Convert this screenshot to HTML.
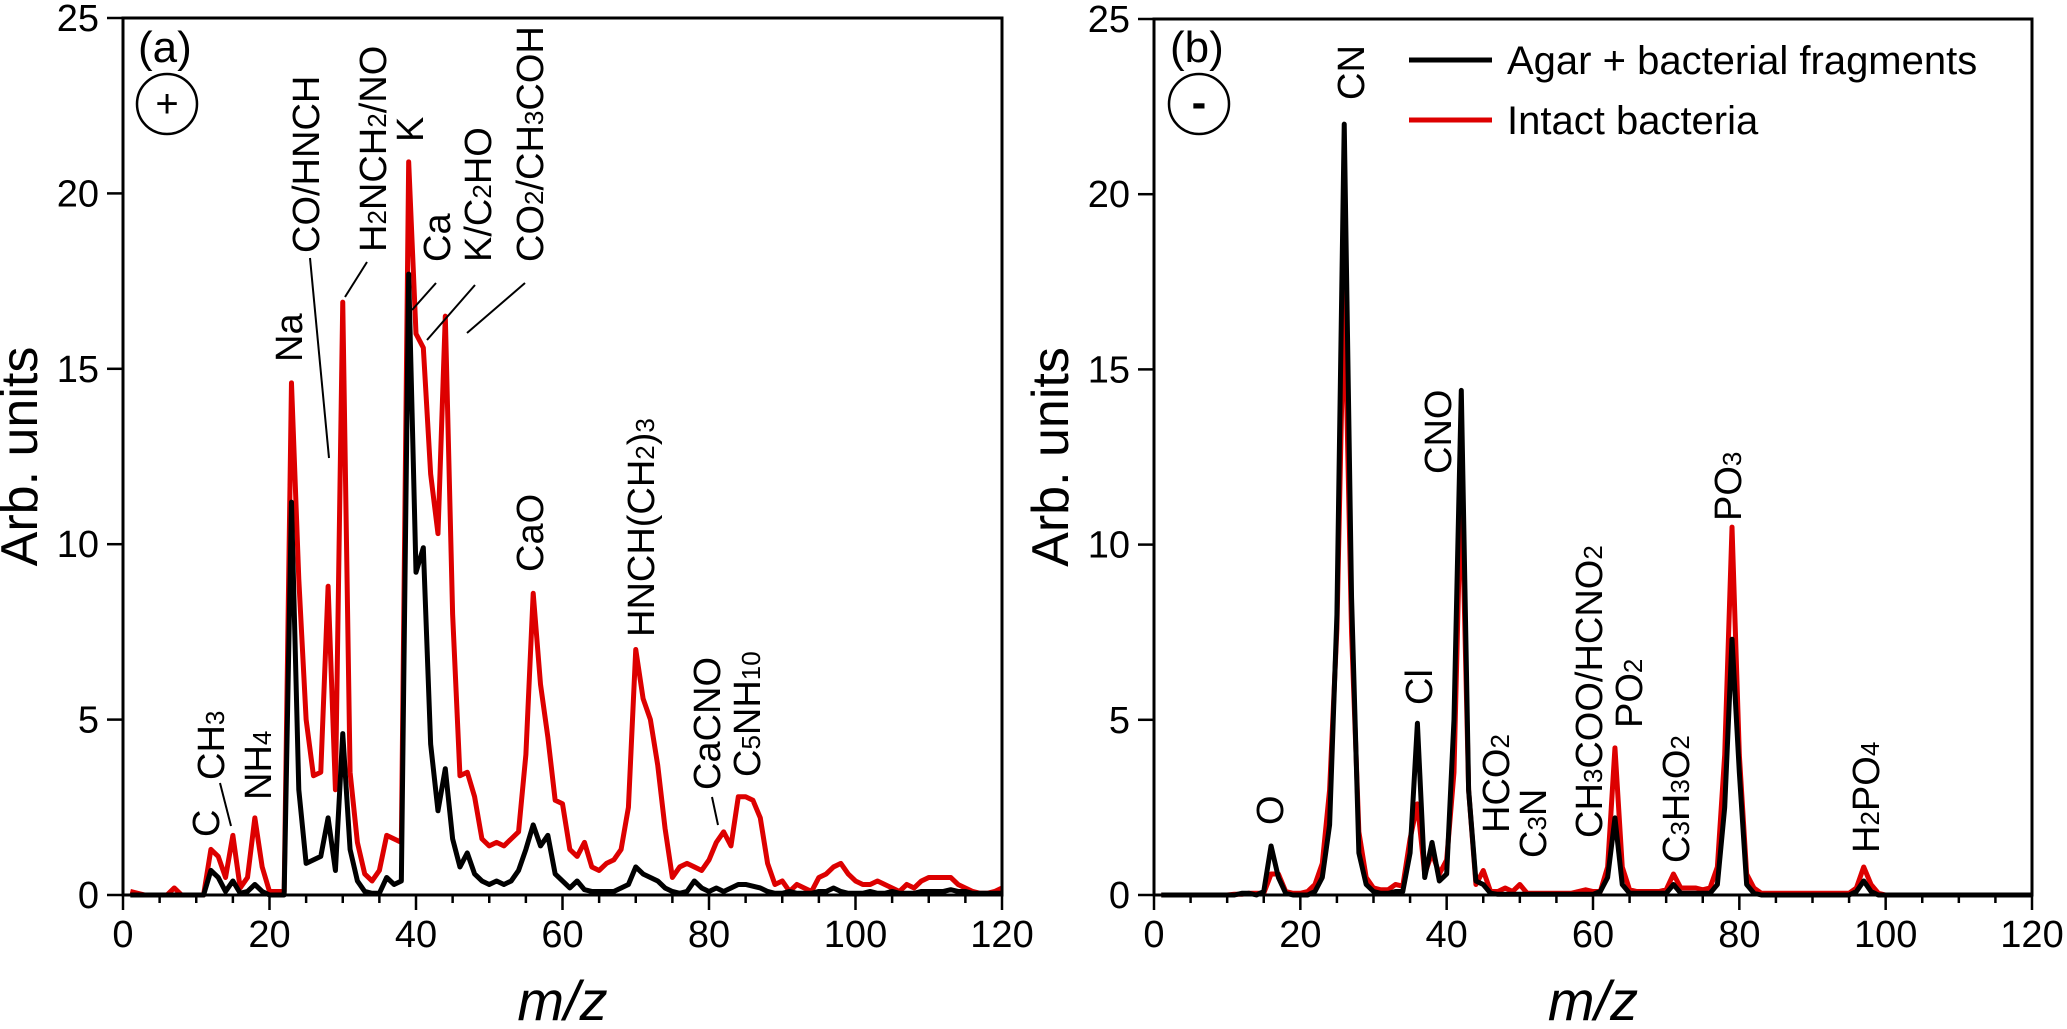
<!DOCTYPE html>
<html><head><meta charset="utf-8">
<style>
html,body{margin:0;padding:0;background:#fff;}
svg{display:block;font-family:"Liberation Sans",Arial,sans-serif;}
</style></head>
<body>
<svg id="chart" width="2067" height="1029" viewBox="0 0 2067 1029" xmlns="http://www.w3.org/2000/svg">
<g id="panelA"></g>
<g id="panelB"></g>
<g id="labels" font-size="38" fill="#000"></g>
</svg>
<script>
// m/z categories 1..120
const mzValues = Array.from({length:120},(_,i)=>i+1);
const yTicks = [0,5,10,15,20,25];
const xTicks = [0,20,40,60,80,100,120];
const legendLabels = ["Agar + bacterial fragments","Intact bacteria"];

const posAgar = [0,0,0,0,0,0,0,0,0,0, 0,0.7,0.5,0.1,0.4,0.05,0.1,0.3,0.1,0, 0,0,11.2,3.0,0.9,1.0,1.1,2.2,0.7,4.6, 1.3,0.4,0.1,0.05,0.05,0.5,0.3,0.4,17.7,9.2, 9.9,4.3,2.4,3.6,1.6,0.8,1.2,0.6,0.4,0.3, 0.4,0.3,0.4,0.7,1.3,2.0,1.4,1.7,0.6,0.4, 0.2,0.4,0.15,0.1,0.1,0.1,0.1,0.2,0.3,0.8, 0.6,0.5,0.4,0.2,0.1,0.05,0.1,0.4,0.2,0.1, 0.2,0.1,0.2,0.3,0.3,0.25,0.2,0.1,0.05,0.05, 0.1,0.05,0.05,0.05,0.1,0.1,0.2,0.1,0.05,0.05, 0.05,0.1,0.05,0.05,0.1,0.05,0.05,0.05,0.1,0.1, 0.1,0.1,0.15,0.1,0.1,0.05,0.05,0.05,0.05,0.05];
const posIntact = [0.1,0.05,0,0,0,0,0.2,0,0,0, 0,1.3,1.1,0.5,1.7,0.2,0.5,2.2,0.8,0.1, 0.1,0.1,14.6,9.0,5.0,3.4,3.5,8.8,3.0,16.9, 3.5,1.5,0.6,0.4,0.7,1.7,1.6,1.5,20.9,16.0, 15.6,12.0,10.3,16.5,8.0,3.4,3.5,2.8,1.6,1.4, 1.5,1.4,1.6,1.8,4.0,8.6,6.0,4.5,2.7,2.6, 1.3,1.1,1.5,0.8,0.7,0.9,1.0,1.3,2.5,7.0, 5.6,5.0,3.7,1.9,0.5,0.8,0.9,0.8,0.7,1.0, 1.5,1.8,1.4,2.8,2.8,2.7,2.2,0.9,0.3,0.4, 0.1,0.3,0.2,0.1,0.5,0.6,0.8,0.9,0.6,0.4, 0.3,0.3,0.4,0.3,0.2,0.1,0.3,0.2,0.4,0.5, 0.5,0.5,0.5,0.3,0.2,0.1,0.05,0.05,0.1,0.2];

const negAgar = [0,0,0,0,0,0,0,0,0,0, 0,0.05,0.05,0,0.1,1.4,0.5,0.05,0,0, 0,0.1,0.5,2.0,8.0,22.0,8.5,1.2,0.3,0.1, 0.05,0.05,0.1,0.1,1.2,4.9,0.5,1.5,0.4,0.6, 5.0,14.4,3.0,0.4,0.3,0.05,0.02,0.02,0.02,0.02, 0.02,0.02,0.02,0.02,0.02,0.02,0.02,0.02,0.02,0.02, 0.1,0.5,2.2,0.3,0.05,0.05,0.05,0.05,0.05,0.05, 0.3,0.05,0.05,0.05,0.05,0.05,0.3,2.5,7.3,3.5, 0.3,0.05,0,0,0,0,0,0,0,0, 0,0,0,0,0,0.1,0.4,0.1,0,0, 0,0,0,0,0,0,0,0,0,0, 0,0,0,0,0,0,0,0,0,0];
const negIntact = [0,0,0,0,0,0,0,0,0,0, 0.02,0.02,0.05,0.05,0.05,0.6,0.6,0.1,0.05,0.05, 0.1,0.3,0.9,3.0,7.6,17.5,7.5,1.8,0.5,0.2, 0.15,0.15,0.3,0.25,1.6,2.6,0.6,1.2,0.6,1.0, 3.5,12.0,3.0,0.3,0.7,0.1,0.1,0.2,0.1,0.3, 0.05,0.05,0.05,0.05,0.05,0.05,0.05,0.1,0.15,0.1, 0.1,0.8,4.2,0.8,0.15,0.1,0.1,0.1,0.1,0.15, 0.6,0.2,0.2,0.2,0.15,0.2,0.8,4.0,10.5,4.0, 0.6,0.2,0.05,0.05,0.05,0.05,0.05,0.05,0.05,0.05, 0.05,0.05,0.05,0.05,0.05,0.2,0.8,0.3,0.05,0, 0,0,0,0,0,0,0,0,0,0, 0,0,0,0,0,0,0,0,0,0];

const NS="http://www.w3.org/2000/svg";
function el(tag,attrs,parent){const e=document.createElementNS(NS,tag);for(const k in attrs)e.setAttribute(k,attrs[k]);parent.appendChild(e);return e;}

function drawPanel(g,L,R,T,B,agar,intact,tag){
  const sx=v=>L+(v/120)*(R-L);
  const sy=v=>B-(v/25)*(B-T);
  const xt=el('g',{},g);
  
  
  for(let v=0;v<=120;v+=5){
    const major=v%20===0;
    const t=el('line',{x1:sx(v),x2:sx(v),y1:B,y2:B+(major?15:8),stroke:'#000','stroke-width':2.5},xt);
    
    
  }
  xTicks.forEach(v=>{
    const t=el('text',{x:sx(v),y:947,'text-anchor':'middle','font-size':38},xt);
    t.textContent=v;
    
    
  });
  const yt=el('g',{},g);
  
  
  yTicks.forEach(v=>{
    const t=el('line',{x1:L-16,x2:L,y1:sy(v),y2:sy(v),stroke:'#000','stroke-width':2.5},yt);
    
    
    const tl=el('text',{x:L-24,y:sy(v)+13,'text-anchor':'end','font-size':38},yt);
    tl.textContent=v;
    
    
  });
  const mk=(arr,color,name)=>{
    const p=el('polyline',{points:arr.map((v,i)=>sx(mzValues[i])+','+sy(v)).join(' '),fill:'none',stroke:color,'stroke-width':5,'stroke-linejoin':'round'},g);
    
    
  };
  mk(intact,'#dd0000','intact-bacteria-line-'+tag);
  mk(agar,'#000','agar-fragments-line-'+tag);
  const f=el('rect',{x:L,y:T,width:R-L,height:B-T,fill:'none',stroke:'#000','stroke-width':3},g);
  
  
  const xtl=el('text',{x:(L+R)/2,y:1020,'text-anchor':'middle','font-size':56,'font-style':'italic'},g);
  xtl.textContent='m/z';
  
  
  const cx=L-86, cy=(T+B)/2;
  const ytl=el('text',{x:cx,y:cy,'text-anchor':'middle','font-size':52,transform:`rotate(-90 ${cx} ${cy})`},g);
  ytl.textContent='Arb. units';
  
  
}
drawPanel(document.getElementById('panelA'),123,1002,18,895,posAgar,posIntact,'a');
drawPanel(document.getElementById('panelB'),1154,2032,19,895,negAgar,negIntact,'b');

const lab=document.getElementById('labels');
[['(a)',138,62,167,'+'],['(b)',1170,62,1199,'-']].forEach(([t,x,y,ccx,sym])=>{
  const tx=el('text',{x:x,y:y,'font-size':44},lab);
  tx.textContent=t;
  
  
  const c=el('circle',{cx:ccx,cy:104,r:30,fill:'none',stroke:'#000','stroke-width':2.5},lab);
  
  
  const s=el('text',{x:ccx,y:117,'text-anchor':'middle','font-size':sym==='+'?40:44,'font-weight':sym==='-'?'bold':'normal'},lab);
  s.textContent=sym;
  
  
});
[[60,'#000'],[120,'#dd0000']].forEach(([y,col],i)=>{
  const l=el('line',{x1:1409,x2:1492,y1:y,y2:y,stroke:col,'stroke-width':5},lab);
  
  
  const t=el('text',{x:1507,y:y+14,'font-size':40},lab);
  t.textContent=legendLabels[i];
  
  
});
function R(parts,x,y){
  const t=el('text',{x:x,y:y,transform:`rotate(-90 ${x} ${y})`},lab);
  
  
  parts.forEach(p=>{const s=el('tspan',p[1]?{'font-size':26}:{},t);s.textContent=p[0];});
}
R([['Na']],302,362);
R([['CO/HNCH']],319,253);
R([['H'],['2',1],['NCH'],['2',1],['/NO']],386,252);
R([['K']],423,142);
R([['Ca']],450,262);
R([['K/C'],['2',1],['HO']],491,262);
R([['CO'],['2',1],['/CH'],['3',1],['COH']],543,262);
R([['C']],219,837);
R([['CH'],['3',1]],224,780);
R([['NH'],['4',1]],271,800);
R([['CaO']],543,572);
R([['HNCH(CH'],['2',1],[')'],['3',1]],654,637);
R([['CaCNO']],720,790);
R([['C'],['5',1],['NH'],['10',1]],760,777);
R([['O']],1283,825);
R([['CN']],1364,100);
R([['CNO']],1451,474);
R([['Cl']],1432,705);
R([['HCO'],['2',1]],1509,833);
R([['C'],['3',1],['N']],1546,858);
R([['CH'],['3',1],['COO/HCNO'],['2',1]],1602,838);
R([['PO'],['2',1]],1642,728);
R([['C'],['3',1],['H'],['3',1],['O'],['2',1]],1689,863);
R([['PO'],['3',1]],1741,521);
R([['H'],['2',1],['PO'],['4',1]],1879,853);
[[310,258,329,458],[367,262,345,297],[436,283,412,310],[475,285,427,340],[525,283,467,333],[220,783,231,826],[712,797,718,825]].forEach(a=>{
  const l=el('line',{x1:a[0],y1:a[1],x2:a[2],y2:a[3],stroke:'#000','stroke-width':2},lab);
  
  
});
</script>
</body></html>
